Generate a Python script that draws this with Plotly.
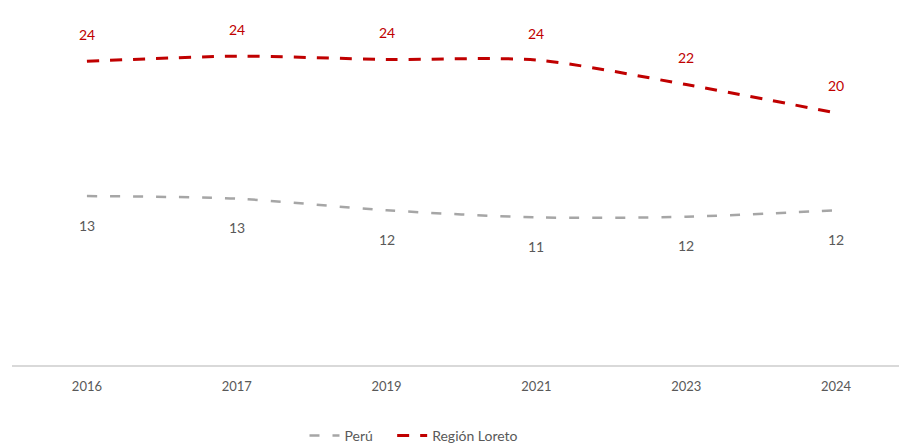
import plotly.graph_objects as go

years = ["2016", "2017", "2019", "2021", "2023", "2024"]
peru = [13.1, 12.9, 12.0, 11.45, 11.5, 12.0]
loreto = [23.55, 23.95, 23.7, 23.65, 21.75, 19.55]

peru_labels = [f"{round(v):d}" for v in peru]
loreto_labels = ["24", "24", "24", "24", "22", "20"]

RED = "#C00000"
GRAY_LINE = "#A6A6A6"
GRAY_TEXT = "#595959"
FONT = "Lato"
PAD = "\u00a0" * 4

fig = go.Figure()
fig.add_trace(go.Scatter(
    x=years, y=peru, name="Perú" + PAD, mode="lines",
    line=dict(color=GRAY_LINE, width=2.5, dash="10px,13px", shape="spline", smoothing=0.8),
))
fig.add_trace(go.Scatter(
    x=years, y=loreto, name="Región Loreto", mode="lines",
    line=dict(color=RED, width=3, dash="12px,11px", shape="spline", smoothing=0.8),
))

# annotations on a category axis use the category serial number
for i, (y, t) in enumerate(zip(loreto, loreto_labels)):
    fig.add_annotation(x=i, y=y, xref="x", yref="y", text=t, showarrow=False, yshift=27,
                       font=dict(family=FONT, size=14, color=RED))
for i, (y, t) in enumerate(zip(peru, peru_labels)):
    fig.add_annotation(x=i, y=y, xref="x", yref="y", text=t, showarrow=False, yshift=-29,
                       font=dict(family=FONT, size=14, color=GRAY_TEXT))

fig.update_layout(
    width=899, height=444,
    margin=dict(l=12, r=0, t=4, b=79, autoexpand=False),
    paper_bgcolor="white", plot_bgcolor="white",
    font=dict(family=FONT, color=GRAY_TEXT, size=13),
    showlegend=True,
    legend=dict(orientation="h", x=0.4532, xanchor="center",
                yref="container", y=0.018, yanchor="middle",
                font=dict(family=FONT, size=14, color=GRAY_TEXT), itemwidth=30,
                tracegroupgap=0),
    xaxis=dict(type="category", range=[-0.5, 5.42], showgrid=False, zeroline=False,
               showline=True, linecolor="#D9D9D9", linewidth=1.5,
               ticks="", ticklabelstandoff=9,
               tickfont=dict(family=FONT, size=13, color=GRAY_TEXT)),
    yaxis=dict(range=[0, 28], showgrid=False, zeroline=False, showline=False,
               showticklabels=False, ticks=""),
)

fig.write_html("out.html", config={"displayModeBar": False},
               post_script="document.body.style.margin='0';document.body.style.overflow='hidden';")
